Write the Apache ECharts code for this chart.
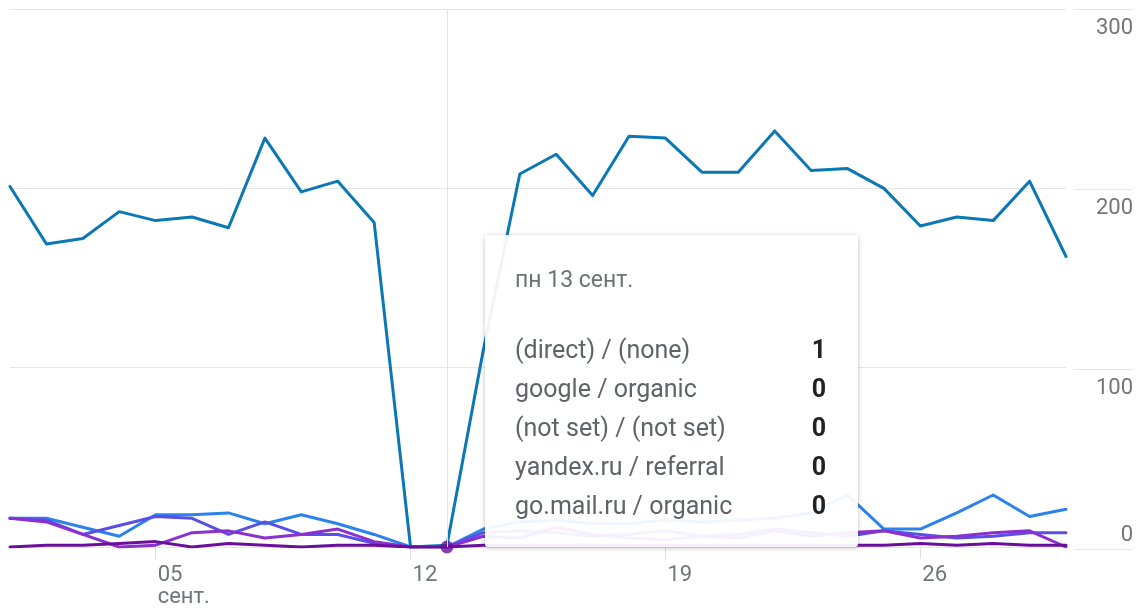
<!DOCTYPE html>
<html>
<head>
<meta charset="utf-8">
<script src="https://cdn.jsdelivr.net/npm/echarts@6/dist/echarts.min.js"></script>
<style>
html,body{margin:0;padding:0;background:#fff;}
#c{width:1142px;height:608px;}
</style>
</head>
<body>
<div id="c"></div>
<script>
// ---- data ----
const year = 2021;
const monthIndex = 8; // September
const monthShort = 'сент.';
const weekdays = ['вс','пн','вт','ср','чт','пт','сб'];
const days = [1,2,3,4,5,6,7,8,9,10,11,12,13,14,15,16,17,18,19,20,21,22,23,24,25,26,27,28,29,30];
const tickDays = ['05','12','19','26'];
const yTicks = [0,100,200,300];
const hoverIndex = 12;

const seriesNames = ['(direct) / (none)','google / organic','(not set) / (not set)','yandex.ru / referral','go.mail.ru / organic'];
const direct = [201,169,172,187,182,184,178,228,198,204,181,0,1,110,208,219,196,229,228,209,209,232,210,211,200,179,184,182,204,162];
const google = [16,16,11,6,18,18,19,13,18,13,7,0,0,10,14,15,13,13,15,14,15,16,19,29,10,10,19,29,17,21];
const notSet = [16,15,7,12,17,16,7,14,7,7,2,0,0,8,9,8,6,7,9,6,7,10,8,6,9,7,5,6,8,8];
const yandex = [16,14,7,0,1,8,9,5,7,10,3,0,0,6,5,11,7,5,4,6,5,9,6,8,9,5,6,8,9,0];
const goMail = [0,1,1,2,3,0,2,1,0,1,1,0,0,1,1,1,1,1,1,1,1,1,1,1,1,2,1,2,1,1];

const colors = ['#0b78b5','#2c82ec','#5850e6','#8a30d0','#690f9b'];

// ---- chart ----
const categories = days.map(d => String(d).padStart(2,'0'));
const values = [direct, google, notSet, yandex, goMail];
const chart = echarts.init(document.getElementById('c'), null, {renderer:'canvas'});

const lineSeries = values.map((arr, i) => ({
  name: seriesNames[i],
  type: 'line',
  data: arr,
  symbol: 'none',
  xAxisIndex: 0, yAxisIndex: 0,
  lineStyle: {width: 3, color: colors[i], join: 'round', cap: 'round'},
  itemStyle: {color: colors[i]},
  emphasis: {disabled: true},
  z: 2 + i
}));

const showLabel = (i) => tickDays.indexOf(categories[i]) >= 0;
const yMin = yTicks[0], yMax = yTicks[yTicks.length-1], yStep = yTicks[1]-yTicks[0];

chart.setOption({
  animation: false,
  textStyle: {fontFamily: 'Roboto, sans-serif'},
  grid: [
    {left: 10, right: 76, top: 9, bottom: 59},
    {left: 1074, right: 9, top: 9, bottom: 59}
  ],
  xAxis: [
    {
      type: 'category', gridIndex: 0, data: categories, boundaryGap: false,
      axisLine: {show: false},
      axisTick: {show: true, interval: (i) => showLabel(i), length: 12, lineStyle: {color: '#dadce0'}},
      axisLabel: {
        interval: (i) => showLabel(i),
        align: 'left', margin: 17, color: '#70757a', fontSize: 22, lineHeight: 22,
        padding: [0,0,0,2],
        formatter: (v) => v === tickDays[0] ? v + '\n' + monthShort : v
      },
      splitLine: {show: false}
    },
    {type: 'value', gridIndex: 1, show: false, min: 0, max: 1}
  ],
  yAxis: [
    {
      type: 'value', gridIndex: 0, min: yMin, max: yMax, interval: yStep,
      axisLabel: {show: false}, axisLine: {show: false}, axisTick: {show: false},
      splitLine: {lineStyle: {color: '#e6e6e6', width: 1}}
    },
    {
      type: 'value', gridIndex: 1, position: 'right', min: yMin, max: yMax, interval: yStep,
      axisLine: {show: false}, axisTick: {show: false},
      splitLine: {lineStyle: {color: '#e6e6e6', width: 1}},
      axisLabel: {
        align: 'right', verticalAlign: 'top', margin: 0, color: '#757575', fontSize: 22,
        padding: [8,0,0,0],
        formatter: (v) => v === yMin ? '' : String(v)
      }
    },
    {
      type: 'value', gridIndex: 1, position: 'right', min: yMin, max: yMax, interval: yStep,
      axisLine: {show: false}, axisTick: {show: false}, splitLine: {show: false},
      axisLabel: {
        align: 'right', verticalAlign: 'bottom', margin: 0, color: '#757575', fontSize: 22,
        padding: [0,0,3,0],
        formatter: (v) => v === yMin ? String(v) : ''
      }
    }
  ],
  tooltip: {
    trigger: 'axis',
    triggerOn: 'none',
    alwaysShowContent: true,
    transitionDuration: 0,
    position: () => [485, 235],
    backgroundColor: 'rgba(255,255,255,0.93)',
    borderWidth: 0,
    padding: 0,
    extraCssText: 'box-shadow:0 1px 5px rgba(0,0,0,0.25);border-radius:3px;',
    axisPointer: {type: 'line', lineStyle: {color: '#e3e3e3', width: 1, type: 'solid'}, label: {show: false}},
    formatter: (params) => {
      const ps = params.filter(p => p.seriesType === 'line');
      if (!ps.length) return '';
      const idx = ps[0].dataIndex;
      const dt = new Date(year, monthIndex, days[idx]);
      const head = weekdays[dt.getDay()] + ' ' + days[idx] + ' ' + monthShort;
      let html = '<div style="width:311px;padding:30px 32px 22px 30px;font-family:Roboto,sans-serif;">';
      html += '<div style="font-size:23px;line-height:30px;color:#6f7378;margin-bottom:35px;">' + head + '</div>';
      ps.forEach(p => {
        html += '<div style="display:flex;justify-content:space-between;font-size:25px;line-height:39px;">' +
          '<span style="color:#5f6368;">' + p.seriesName + '</span>' +
          '<span style="color:#202124;font-weight:bold;">' + p.value + '</span></div>';
      });
      html += '</div>';
      return html;
    }
  },
  series: lineSeries.concat([{
    name: 'hover',
    type: 'scatter',
    xAxisIndex: 0, yAxisIndex: 0,
    data: goMail.map((v, i) => i === hoverIndex ? v : '-'),
    symbol: 'circle', symbolSize: 13,
    itemStyle: {color: colors[4]},
    emphasis: {disabled: true},
    z: 10
  }])
});

chart.dispatchAction({type: 'showTip', seriesIndex: 0, dataIndex: hoverIndex});
</script>
</body>
</html>
